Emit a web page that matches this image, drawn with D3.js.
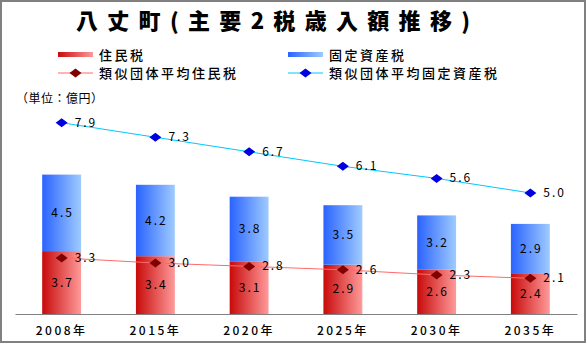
<!DOCTYPE html>
<html><head><meta charset="utf-8">
<script src="https://cdn.jsdelivr.net/npm/d3@7"></script>
<style>body{margin:0;background:#fff}svg{display:block}text{font-family:"Noto Sans CJK JP","Liberation Sans",sans-serif}</style>
</head><body><div id="c"></div>
<script>
const years = ["2008年","2015年","2020年","2025年","2030年","2035年"];
const residentTax = [3.7,3.4,3.1,2.9,2.6,2.4];
const propertyTax = [4.5,4.2,3.8,3.5,3.2,2.9];
const avgResident = [3.3,3.0,2.8,2.6,2.3,2.1];
const avgProperty = [7.9,7.3,6.7,6.1,5.6,5.0];
const title = "八丈町(主要2税歳入額推移)";
const legendLabels = ["住民税","固定資産税","類似団体平均住民税","類似団体平均固定資産税"];
const unitLabel = "（単位：億円）";

const W=587,H=344;
const svg=d3.select("#c").append("svg").attr("width",W).attr("height",H);
const defs=svg.append("defs");
function grad(id,c1,c2){const g=defs.append("linearGradient").attr("id",id).attr("x1","0").attr("x2","1").attr("y1","0").attr("y2","0");
g.append("stop").attr("offset","0").attr("stop-color",c1);g.append("stop").attr("offset","1").attr("stop-color",c2);}
grad("gr","#c80a0a","#ff9a9a");grad("gb","#2a63ff","#9fcbff");

svg.append("rect").attr("x",1).attr("y",1).attr("width",W-3).attr("height",H-3).attr("fill","#fff").attr("stroke","#808080").attr("stroke-width",2);

const x=d3.scaleBand().domain(years).range([15,577]).paddingInner(0.585).paddingOuter(0.29);
const y=d3.scaleLinear().domain([0,14]).range([314,76]);
const y2=d3.scaleLinear().domain([0,9.83]).range([314,76]);

// title
svg.append("text").attr("x",76).attr("y",29).attr("textLength",394).attr("lengthAdjust","spacing")
 .attr("font-size",22).attr("font-weight",900).text(title);

// legend
const lg=[{x:58,y:55,t:0},{x:288,y:55,t:1},{x:58,y:73,t:2},{x:288,y:73,t:3}];
lg.forEach((l,i)=>{
 if(i<2){svg.append("rect").attr("x",l.x).attr("y",l.y-3).attr("width",35).attr("height",5).attr("fill",i==0?"url(#gr)":"url(#gb)");}
 else{svg.append("line").attr("x1",l.x).attr("x2",l.x+35).attr("y1",l.y).attr("y2",l.y).attr("stroke",i==2?"#ff6a6a":"#00c8ff").attr("stroke-width",1);
  svg.append("path").attr("d","M-6,0L0,-4.5L6,0L0,4.5Z").attr("transform",`translate(${l.x+17.5},${l.y})`).attr("fill",i==2?"#800000":"#0000e0");}
 svg.append("text").attr("x",l.x+41).attr("y",l.y+5).attr("font-size",13).attr("font-weight",500).attr("letter-spacing",2.5).text(legendLabels[l.t]);
});
svg.append("text").attr("x",16).attr("y",103).attr("font-size",12).attr("letter-spacing",0.5).text(unitLabel);

// bars
const bw=x.bandwidth();
years.forEach((yr,i)=>{
 const x0=x(yr);
 svg.append("rect").attr("x",x0).attr("width",bw).attr("y",y(residentTax[i])).attr("height",y(0)-y(residentTax[i])).attr("fill","url(#gr)");
 const t=residentTax[i]+propertyTax[i];
 svg.append("rect").attr("x",x0).attr("width",bw).attr("y",y(t)).attr("height",y(residentTax[i])-y(t)).attr("fill","url(#gb)");
 svg.append("text").attr("x",x0+bw/2+1).attr("y",y(residentTax[i]/2)+4).attr("text-anchor","middle").attr("font-size",12).attr("letter-spacing",2).text(residentTax[i].toFixed(1));
 svg.append("text").attr("x",x0+bw/2+1).attr("y",y(residentTax[i]+propertyTax[i]/2)+4).attr("text-anchor","middle").attr("font-size",12).attr("letter-spacing",2).text(propertyTax[i].toFixed(1));
});

// axis
const ax=svg.append("g").attr("transform","translate(0,314)").call(d3.axisBottom(x).tickSize(0).tickPadding(12));
ax.select(".domain").attr("stroke","#808080").attr("stroke-width",1.2);
ax.selectAll("text").attr("font-size",12).attr("font-weight",500).attr("letter-spacing",2.5).attr("fill","#000").style("font-family",'"Noto Sans CJK JP",sans-serif');

// lines
function drawLine(data,sc,lc,mc){
 const cx=i=>x(years[i])+bw/2;
 svg.append("path").datum(data).attr("fill","none").attr("stroke",lc).attr("stroke-width",1)
  .attr("d",d3.line().x((d,i)=>cx(i)).y(d=>sc(d)));
 data.forEach((d,i)=>{
  svg.append("path").attr("d","M-6,0L0,-4.5L6,0L0,4.5Z").attr("transform",`translate(${cx(i)},${sc(d)})`).attr("fill",mc);
  svg.append("text").attr("x",cx(i)+13).attr("y",sc(d)+4).attr("font-size",12).attr("letter-spacing",2).text(d.toFixed(1));
 });
}
drawLine(avgResident,y,"#ff6a6a","#800000");
drawLine(avgProperty,y2,"#00c8ff","#0000e0");
</script></body></html>
